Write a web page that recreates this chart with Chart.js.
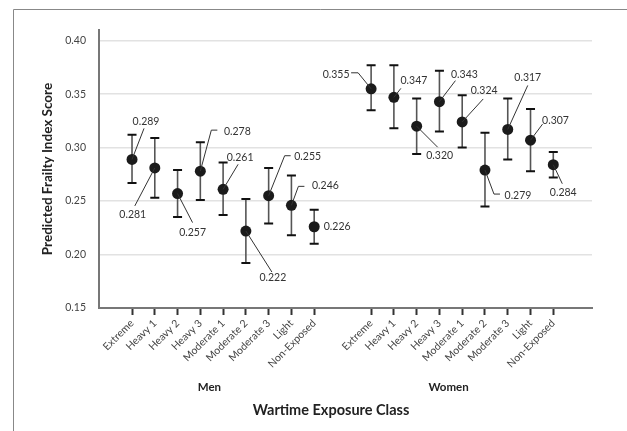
<!DOCTYPE html>
<html>
<head>
<meta charset="utf-8">
<script src="https://cdn.jsdelivr.net/npm/chart.js@4.4.1/dist/chart.umd.min.js"></script>
<style>
  html, body { margin: 0; padding: 0; background: #fff; }
  #wrap { width: 627px; height: 431px; position: relative; }
</style>
</head>
<body>
<div id="wrap"><canvas id="frailty"></canvas></div>
<script>
const categories = ['Extreme', 'Heavy 1', 'Heavy 2', 'Heavy 3', 'Moderate 1', 'Moderate 2', 'Moderate 3', 'Light', 'Non-Exposed'];
const groups = ['Men', 'Women'];

const menEstimate = [0.289, 0.281, 0.257, 0.278, 0.261, 0.222, 0.255, 0.246, 0.226];
const menLower = [0.267, 0.253, 0.235, 0.251, 0.237, 0.192, 0.229, 0.218, 0.210];
const menUpper = [0.312, 0.309, 0.279, 0.305, 0.286, 0.252, 0.281, 0.274, 0.242];

const womenEstimate = [0.355, 0.347, 0.320, 0.343, 0.324, 0.279, 0.317, 0.307, 0.284];
const womenLower = [0.335, 0.318, 0.294, 0.315, 0.300, 0.245, 0.289, 0.278, 0.272];
const womenUpper = [0.377, 0.377, 0.346, 0.372, 0.349, 0.314, 0.346, 0.336, 0.296];

const yTicks = [0.15, 0.20, 0.25, 0.30, 0.35, 0.40];

// where each group starts along the x axis (in category steps)
const groupStart = [0, 10.5];

// label placement around each point: [labelDx, labelDy, lineDx, lineDy, hook]
const menLabelPos = [
  [14, -38, 12, -31, 0], [-22, 47, -20, 38, 0], [15, 39, 15, 29, 0],
  [37, -40, 11, -41, 6], [17, -32, 15, -25, 0], [27, 47, 26, 41, 0],
  [39, -39, 16, -40, 6], [34, -20, 7, -19, 6], [23, 0, 0, 0, 0]
];
const womenLabelPos = [
  [-35, -14, -13, -16, -7], [20, -17, 7, -9, 0], [23, 29, 21, 21, 0],
  [25, -27, 16, -21, 0], [22, -31, 21, -23, 0], [33, 26, 9, 24, 6],
  [20, -52, 20, -44, 0], [25, -20, 12, -16, 0], [10, 28, 9, 19, 0]
];

const FONT = 'Lato, "Open Sans", sans-serif';

function toPoints(est, lo, hi, start) {
  return est.map((v, i) => ({ x: start + i, y: v, lo: lo[i], hi: hi[i] }));
}

const xTickValues = [];
const xTickLabels = [];
groupStart.forEach(s => {
  categories.forEach((c, i) => { xTickValues.push(s + i); xTickLabels.push(c); });
});

const errorBars = {
  id: 'errorBars',
  beforeDatasetsDraw(chart) {
    const ctx = chart.ctx;
    const xs = chart.scales.x, ys = chart.scales.y;
    ctx.save();
    chart.data.datasets.forEach(ds => {
      ds.data.forEach(p => {
        const x = xs.getPixelForValue(p.x);
        const yl = ys.getPixelForValue(p.lo);
        const yh = ys.getPixelForValue(p.hi);
        ctx.strokeStyle = '#555';
        ctx.lineWidth = 1.6;
        ctx.beginPath();
        ctx.moveTo(x, yl);
        ctx.lineTo(x, yh);
        ctx.stroke();
        ctx.strokeStyle = '#111';
        ctx.lineWidth = 2;
        ctx.beginPath();
        ctx.moveTo(x - 4.5, yl); ctx.lineTo(x + 4.5, yl);
        ctx.moveTo(x - 4.5, yh); ctx.lineTo(x + 4.5, yh);
        ctx.stroke();
      });
    });
    ctx.restore();
  }
};

const valueLabels = {
  id: 'valueLabels',
  afterDatasetsDraw(chart) {
    const ctx = chart.ctx;
    const xs = chart.scales.x, ys = chart.scales.y;
    ctx.save();
    ctx.font = '10.5px ' + FONT;
    ctx.fillStyle = '#333';
    ctx.textAlign = 'center';
    ctx.textBaseline = 'middle';
    chart.data.datasets.forEach(ds => {
      ds.data.forEach((p, i) => {
        const pos = ds.labelPos[i];
        const x = xs.getPixelForValue(p.x);
        const y = ys.getPixelForValue(p.y);
        if (pos[2] || pos[3]) {
          ctx.strokeStyle = '#333';
          ctx.lineWidth = 1;
          ctx.beginPath();
          ctx.moveTo(x, y);
          ctx.lineTo(x + pos[2], y + pos[3]);
          if (pos[4]) ctx.lineTo(x + pos[2] + pos[4], y + pos[3]);
          ctx.stroke();
        }
        ctx.fillText(p.y.toFixed(3), x + pos[0], y + pos[1]);
      });
    });
    ctx.restore();
  }
};

const frameAndTitles = {
  id: 'frameAndTitles',
  afterDraw(chart) {
    const ctx = chart.ctx;
    const xs = chart.scales.x;
    ctx.save();
    ctx.strokeStyle = '#888';
    ctx.lineWidth = 1;
    ctx.beginPath();
    ctx.moveTo(13.5, 431);
    ctx.lineTo(13.5, 9.5);
    ctx.lineTo(627, 9.5);
    ctx.stroke();

    ctx.fillStyle = '#222';
    ctx.textAlign = 'center';
    ctx.textBaseline = 'middle';
    ctx.font = 'bold 11.5px ' + FONT;
    groups.forEach((g, gi) => {
      const mid = xs.getPixelForValue(groupStart[gi] + 3.4);
      ctx.fillText(g, mid, 387);
    });
    ctx.font = 'bold 14.5px ' + FONT;
    ctx.fillText('Wartime Exposure Class', 331, 410);
    ctx.restore();
  }
};

new Chart(document.getElementById('frailty'), {
  type: 'scatter',
  data: {
    datasets: [
      { label: groups[0], data: toPoints(menEstimate, menLower, menUpper, groupStart[0]), labelPos: menLabelPos },
      { label: groups[1], data: toPoints(womenEstimate, womenLower, womenUpper, groupStart[1]), labelPos: womenLabelPos }
    ]
  },
  options: {
    responsive: true,
    maintainAspectRatio: false,
    animation: false,
    layout: { padding: { top: 30, right: 35, left: 0, bottom: 0 } },
    elements: {
      point: { radius: 5.5, hoverRadius: 5.5, backgroundColor: '#1b1b1b', borderColor: '#1b1b1b', borderWidth: 0 }
    },
    scales: {
      x: {
        type: 'linear',
        min: -1.45,
        max: 20.2,
        afterBuildTicks: s => { s.ticks = xTickValues.map(v => ({ value: v })); },
        afterFit: s => { s.height = 123; },
        grid: { drawOnChartArea: false, drawTicks: true, tickLength: 7, tickColor: '#333', tickWidth: 2 },
        border: { color: '#777', width: 2 },
        ticks: {
          autoSkip: false,
          minRotation: 45,
          maxRotation: 45,
          padding: 2,
          color: '#444',
          font: { family: FONT, size: 10.5 },
          callback: (v, i) => xTickLabels[i]
        }
      },
      y: {
        min: 0.15,
        max: 0.41,
        afterBuildTicks: s => { s.ticks = yTicks.map(v => ({ value: v })); },
        afterFit: s => { s.width = 99; },
        grid: { color: '#e2e2e2', lineWidth: 1.5, drawTicks: false },
        border: { color: '#777', width: 2 },
        ticks: {
          padding: 13,
          color: '#444',
          font: { family: FONT, size: 10.5 },
          callback: v => v.toFixed(2)
        },
        title: {
          display: true,
          text: 'Predicted Frailty Index Score',
          color: '#222',
          font: { family: FONT, size: 13.5, weight: 'bold' },
          padding: { top: 40, bottom: 0 }
        }
      }
    },
    plugins: {
      legend: { display: false },
      tooltip: { enabled: false }
    }
  },
  plugins: [errorBars, valueLabels, frameAndTitles]
});
</script>
</body>
</html>
